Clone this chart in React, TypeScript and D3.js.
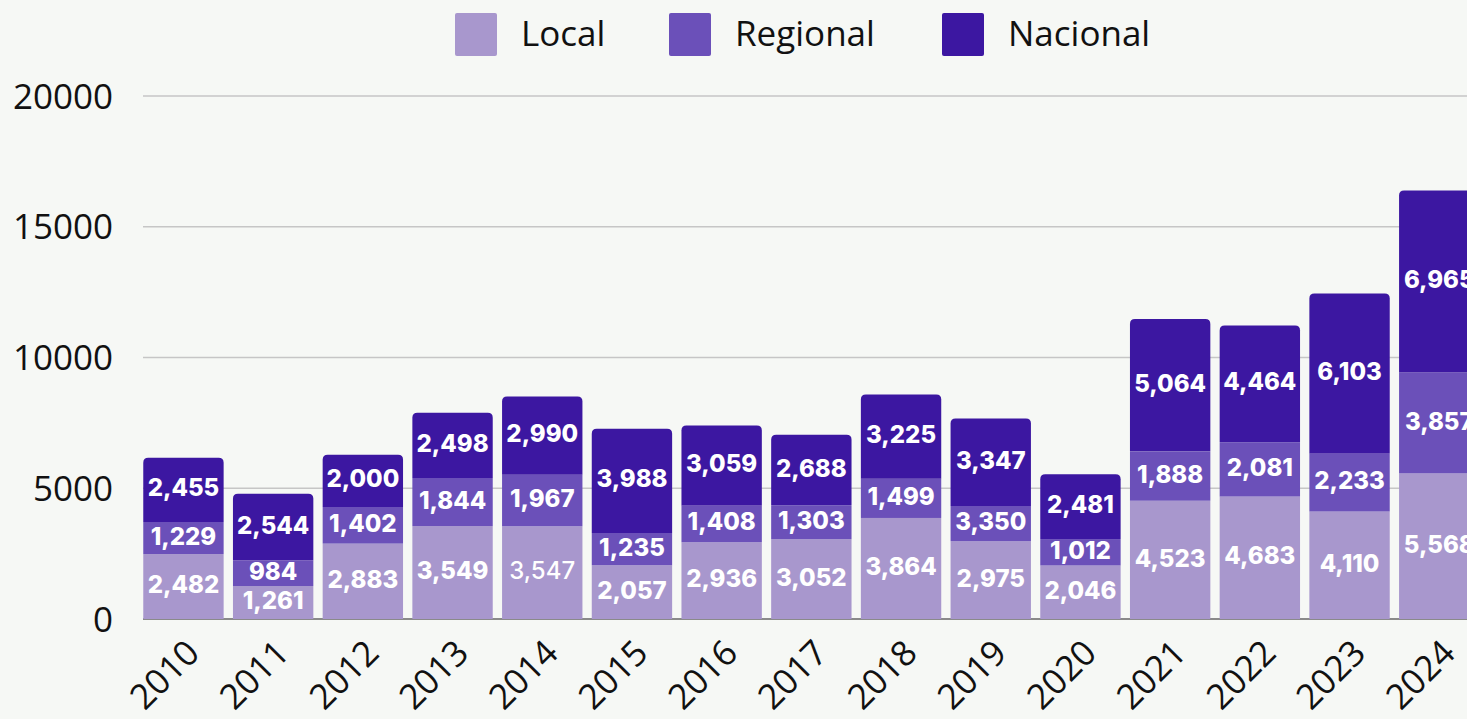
import React from "react";
import * as d3 from "d3";

const years = ["2010","2011","2012","2013","2014","2015","2016","2017","2018","2019","2020","2021","2022","2023","2024"];
const local = [2482,1261,2883,3549,3547,2057,2936,3052,3864,2975,2046,4523,4683,4110,5568];
// bar heights as drawn (2019 regional bar is drawn ~1,350 while labelled 3,350)
const regional = [1229,984,1402,1844,1967,1235,1408,1303,1499,1350,1012,1888,2081,2233,3857];
const nacional = [2455,2544,2000,2498,2990,3988,3059,2688,3225,3347,2481,5064,4464,6103,6965];
const labelOverrides: Record<string,string> = { "Regional-2019": "3,350" };
const lightLabels = ["Local-2014"];
const seriesNames = ["Local","Regional","Nacional"];
const seriesColors = ["#a897cd","#6b50b9","#3c17a1"];
const yTicks = [0,5000,10000,15000,20000];

const W = 1467, H = 719;

export default function App() {
  const y = d3.scaleLinear().domain([0,20000]).range([619,96]);
  const x = d3.scaleBand().domain(years).range([138.6, 138.6 + 15*89.7]).paddingInner(0.104).paddingOuter(0.052);
  const rows = years.map((yr,i)=>({year:yr, Local:local[i], Regional:regional[i], Nacional:nacional[i]}));
  const stack = d3.stack<any>().keys(seriesNames)(rows);
  const fmt = d3.format(",");
  const bw = x.bandwidth();
  const r = 5;

  const topPath = (x0:number, y0:number, w:number, y1:number) => {
    return `M${x0},${y1}V${y0+r}Q${x0},${y0} ${x0+r},${y0}H${x0+w-r}Q${x0+w},${y0} ${x0+w},${y0+r}V${y1}Z`;
  };

  const legendX = [455, 669, 942];

  return (
    <svg width={W} height={H} style={{position:"absolute",left:0,top:0,background:"#f6f8f5"}}>
      <rect x={0} y={0} width={W} height={H} fill="#f6f8f5"/>
      {yTicks.map(t => (
        <g key={t}>
          <line x1={143} x2={W} y1={y(t)} y2={y(t)} stroke={t===0?"#8a8a8a":"#c6c6c6"} strokeWidth={t===0?2:1.5}/>
          <text x={113} y={y(t)} dy="0.36em" textAnchor="end" fontFamily="'Open Sans'" fontSize={35} fill="#111">{t}</text>
        </g>
      ))}
      {stack.map((s, si) => s.map((d, i) => {
        const yr = years[i];
        const x0 = x(yr)!;
        const y0 = y(d[1]), y1 = y(d[0]);
        const key = `${seriesNames[si]}-${yr}`;
        return si === 2
          ? <path key={key} d={topPath(x0, y0, bw, y1)} fill={seriesColors[si]}/>
          : <rect key={key} x={x0} y={y0} width={bw} height={y1-y0} fill={seriesColors[si]}/>;
      }))}
      {stack.map((s, si) => s.map((d, i) => {
        const yr = years[i];
        const key = `${seriesNames[si]}-${yr}`;
        const v = d[1]-d[0];
        const txt = labelOverrides[key] ?? fmt(v);
        return (
          <text key={"l"+key} x={x(yr)! + bw/2} y={(y(d[0])+y(d[1]))/2 - 2} dy="0.36em" textAnchor="middle"
            fontFamily="Inter" fontWeight={lightLabels.includes(key)?500:800} fontSize={24} fill="#fff">{txt}</text>
        );
      }))}
      {years.map(yr => (
        <text key={"x"+yr} transform={`translate(${x(yr)!+bw/2+18},${655}) rotate(-45)`} textAnchor="end"
          fontFamily="'Open Sans'" fontSize={35} fill="#111">{yr}</text>
      ))}
      {seriesNames.map((n, i) => (
        <g key={n}>
          <rect x={legendX[i]} y={13} width={42} height={43} rx={2} fill={seriesColors[i]}/>
          <text x={legendX[i]+66} y={46} fontFamily="'Open Sans'" fontSize={35} fill="#111">{n}</text>
        </g>
      ))}
    </svg>
  );
}
